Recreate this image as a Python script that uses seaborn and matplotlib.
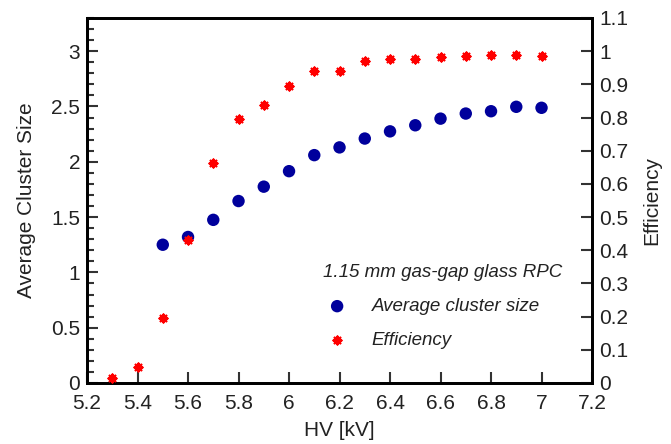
import numpy as np
import pandas as pd
import matplotlib
matplotlib.use("Agg")
import matplotlib.pyplot as plt
from matplotlib.ticker import MultipleLocator
import seaborn as sns

# data
hv_acs = [5.5, 5.6, 5.7, 5.8, 5.9, 6.0, 6.1, 6.2, 6.3, 6.4, 6.5, 6.6, 6.7, 6.8, 6.9, 7.0]
cluster_size = [1.25, 1.32, 1.475, 1.645, 1.775, 1.915, 2.06, 2.13, 2.21, 2.275, 2.33, 2.39, 2.436, 2.457, 2.497, 2.488]

hv_eff = [5.3, 5.4, 5.5, 5.6, 5.7, 5.8, 5.9, 6.0, 6.1, 6.2, 6.3, 6.4, 6.5, 6.6, 6.7, 6.8, 6.9, 7.0]
efficiency = [0.014, 0.049, 0.195, 0.431, 0.664, 0.796, 0.837, 0.895, 0.939, 0.939,
              0.971, 0.975, 0.975, 0.981, 0.985, 0.988, 0.988, 0.985]
eff_err = [0.004, 0.006, 0.010, 0.012, 0.012, 0.010, 0.008, 0.007, 0.005, 0.005,
           0.003, 0.003, 0.003, 0.003, 0.003, 0.003, 0.003, 0.003]

df_acs = pd.DataFrame({"HV": hv_acs, "ACS": cluster_size})
df_eff = pd.DataFrame({"HV": hv_eff, "Eff": efficiency, "err": eff_err})

sns.set_style("ticks")
plt.rcParams["font.family"] = ["Liberation Sans", "DejaVu Sans"]

fig = plt.figure(figsize=(6.71, 4.44), dpi=100)
ax = fig.add_axes([0.1297, 0.1374, 0.7526, 0.8221])
ax2 = ax.twinx()

sns.scatterplot(data=df_acs, x="HV", y="ACS", ax=ax, color="#00009c", s=80,
                edgecolor="none", label="Average cluster size", legend=False, zorder=3)
ax2.errorbar(df_eff["HV"], df_eff["Eff"], yerr=df_eff["err"], fmt="none",
             ecolor="black", elinewidth=1.5, capsize=0, zorder=2)
sns.scatterplot(data=df_eff, x="HV", y="Eff", ax=ax2, color="red", marker=(8, 2, 0),
                s=32, linewidth=1.6, label="Efficiency", legend=False, zorder=3)

ax.set_xlim(5.2, 7.2)
ax.set_ylim(0, 3.3)
ax2.set_ylim(0, 1.1)

ax.xaxis.set_major_locator(MultipleLocator(0.2))
ax.yaxis.set_major_locator(MultipleLocator(0.5))
ax.yaxis.set_minor_locator(MultipleLocator(0.1))
ax2.yaxis.set_major_locator(MultipleLocator(0.1))

ax.set_xticklabels([f"{v:g}" for v in np.round(ax.get_xticks(), 1)])
ax.set_yticklabels([f"{v:g}" for v in ax.get_yticks()])
ax2.set_yticklabels([f"{v:g}" for v in np.round(ax2.get_yticks(), 1)])

ax.tick_params(axis="both", which="major", direction="in", length=8, width=1.5,
               labelsize=15, colors="#333333", labelcolor="#222222")
ax.tick_params(axis="y", which="minor", direction="in", length=5, width=1.5, colors="#333333")
ax.tick_params(axis="x", pad=8)
ax.tick_params(axis="y", pad=5)
ax2.tick_params(axis="y", which="major", direction="in", length=8, width=1.5,
                labelsize=15, colors="#333333", labelcolor="#222222", pad=5)

for a in (ax, ax2):
    for sp in a.spines.values():
        sp.set_visible(True)
        sp.set_linewidth(2)
        sp.set_color("black")

ax.set_xlabel("HV [kV]", fontsize=15, labelpad=6, color="#222222")
ax.set_ylabel("Average Cluster Size", fontsize=15, labelpad=11, color="#222222")
ax2.set_ylabel("Efficiency", fontsize=15, labelpad=10, color="#222222")

h1, l1 = ax.get_legend_handles_labels()
h2, l2 = ax2.get_legend_handles_labels()
leg = ax2.legend(h1 + h2, l1 + l2, title="1.15 mm gas-gap glass RPC", loc="upper left",
                 bbox_to_anchor=(0.434, 0.372), frameon=False,
                 title_fontsize=13.5, labelspacing=0.9, handlelength=1.5,
                 handletextpad=1.1, prop={"style": "italic", "size": 13.5})
leg.get_title().set_style("italic")
leg.get_title().set_color("#222222")
for t in leg.get_texts():
    t.set_color("#222222")
leg._legend_box.align = "left"

fig.savefig("out.png", dpi=100)
